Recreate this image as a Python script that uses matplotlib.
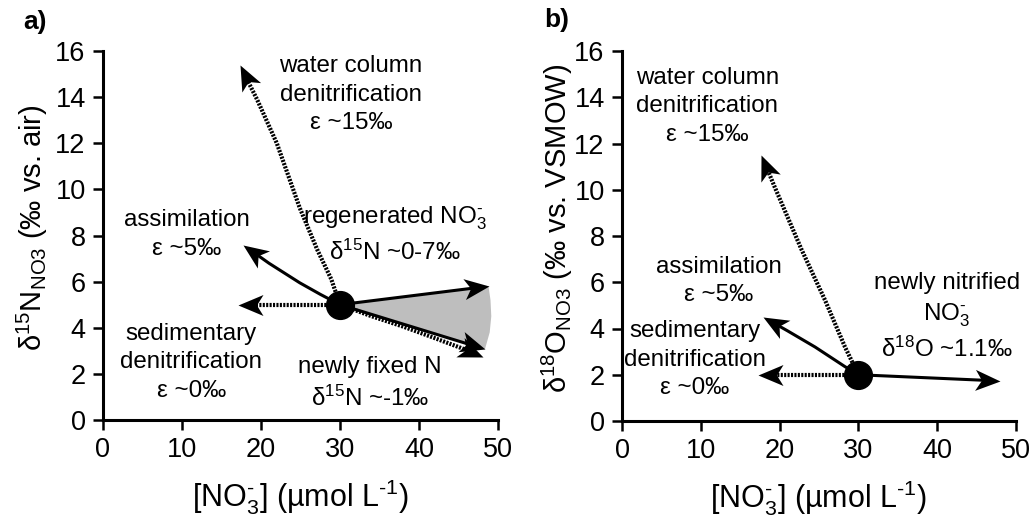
import numpy as np
import matplotlib
matplotlib.use("Agg")
import matplotlib.pyplot as plt
from matplotlib.path import Path
from matplotlib.markers import MarkerStyle

plt.rcParams["font.family"] = ["Liberation Sans", "DejaVu Sans"]
plt.rcParams["mathtext.fontset"] = "custom"
plt.rcParams["mathtext.rm"] = "Liberation Sans"
plt.rcParams["mathtext.it"] = "Liberation Sans:italic"
plt.rcParams["mathtext.bf"] = "Liberation Sans:bold"
plt.rcParams["mathtext.default"] = "regular"

# ---- panel a: d15N of nitrate vs nitrate concentration ----
a_start = (30, 5)
a_wcd_x = [30, 28.9, 27.1, 24.9, 22.0, 19.5, 17.3]
a_wcd_y = [5, 6.1, 7.4, 9.2, 12.0, 13.9, 15.4]
a_assim_x = [30, 27.5, 24.9, 21.0, 17.7]
a_assim_y = [5, 5.45, 5.95, 6.8, 7.6]
a_sed_x = [30, 17.1]
a_sed_y = [5, 5]
a_regen_x = [30, 48.8]
a_regen_y = [5, 5.8]
a_fixed_x = [30, 48.35]
a_fixed_y = [5, 3.07]
a_fixed_dot_x = [30, 34, 38, 42, 45.5, 48.1]
a_fixed_dot_y = [5, 4.5, 4.05, 3.55, 3.1, 2.72]
a_band_x = [30, 48.8, 49.05, 49.15, 48.95, 48.35]
a_band_y = [5, 5.8, 5.2, 4.5, 3.8, 3.07]

# ---- panel b: d18O of nitrate vs nitrate concentration ----
b_start = (30, 2)
b_wcd_x = [30, 28.3, 25.8, 22.8, 19.4, 17.7]
b_wcd_y = [2, 3.2, 5.2, 7.4, 10.1, 11.5]
b_assim_x = [30, 28.3, 24.5, 21.0, 17.9]
b_assim_y = [2, 2.35, 3.2, 3.9, 4.5]
b_sed_x = [30, 17.3]
b_sed_y = [2, 2]
b_nitr_x = [30, 48.0]
b_nitr_y = [2, 1.73]

x_ticks = [0, 10, 20, 30, 40, 50]
y_ticks = [0, 2, 4, 6, 8, 10, 12, 14, 16]

# stealth-style arrowhead: tip at origin, pointing along +x
HEAD_VERTS = [(0, 0), (-1, 0.42), (-0.74, 0), (-1, -0.42), (0, 0)]
HEAD_CODES = [Path.MOVETO, Path.LINETO, Path.LINETO, Path.LINETO, Path.CLOSEPOLY]
HEAD_PATH = Path(HEAD_VERTS, HEAD_CODES)
HEAD_MS = 36          # marker size in points (head length = HEAD_MS/2 pt)
HEAD_LEN_PX = HEAD_MS / 2 * 100 / 72

SOLID = dict(color="black", lw=2.2, solid_capstyle="butt")
DOTTED = dict(color="black", lw=3.0, linestyle=(0, (0.5, 0.32)), dash_capstyle="butt")

HY = "\u2010"  # short hyphen used for the charge / exponent signs


def draw_arrow(ax, xs, ys, style):
    pts = ax.transData.transform(np.column_stack([xs, ys]))
    d = pts[-1] - pts[-2]
    u = d / np.hypot(*d)
    ang = np.degrees(np.arctan2(d[1], d[0]))
    shaft = np.vstack([pts[:-1], pts[-1] - u * HEAD_LEN_PX * 0.6])
    shaft = ax.transData.inverted().transform(shaft)
    ax.plot(shaft[:, 0], shaft[:, 1], zorder=3, **style)
    head = MarkerStyle(HEAD_PATH).rotated(deg=ang)
    ax.plot([xs[-1]], [ys[-1]], marker=head, ms=HEAD_MS, color="black",
            mec="none", zorder=4, clip_on=False)


def style_axes(ax):
    ax.set_xlim(0, 50)
    ax.set_ylim(0, 16)
    ax.set_xticks(x_ticks)
    ax.set_yticks(y_ticks)
    for s in ("top", "right"):
        ax.spines[s].set_visible(False)
    for s in ("left", "bottom"):
        ax.spines[s].set_linewidth(2.2)
    ax.tick_params(direction="out", length=7.5, width=1.8, labelsize=19.5, pad=5)


fig = plt.figure(figsize=(10.35, 5.19), dpi=100)
W, H = 1035, 519
axA = fig.add_axes([103 / W, 1 - 420 / H, (498 - 103) / W, (420 - 51) / H])
axB = fig.add_axes([622 / W, 1 - 421 / H, (1016 - 622) / W, (421 - 51) / H])

TXT = dict(ha="center", va="center", fontsize=17.4, linespacing=1.38, multialignment="center")
XLAB = f"[NO$_3^{{{HY}}}$] (µmol L$^{{{HY}1}}$)"

# panel a
style_axes(axA)
axA.fill(a_band_x, a_band_y, color="#bebebe", lw=0, zorder=1)
draw_arrow(axA, a_wcd_x, a_wcd_y, DOTTED)
draw_arrow(axA, a_assim_x, a_assim_y, SOLID)
draw_arrow(axA, a_sed_x, a_sed_y, DOTTED)
draw_arrow(axA, a_fixed_dot_x, a_fixed_dot_y, DOTTED)
draw_arrow(axA, a_regen_x, a_regen_y, SOLID)
draw_arrow(axA, a_fixed_x, a_fixed_y, SOLID)
axA.plot(*a_start, "o", ms=20, color="black", zorder=5)
axA.text(31.4, 14.1, "water column\ndenitrification\nε ~15‰", **TXT)
axA.text(10.6, 8.05, "assimilation\nε ~5‰", **TXT)
axA.text(37.0, 8.05, f"regenerated NO$_3^{{{HY}}}$\nδ$^{{15}}$N ~0-7‰", **TXT)
axA.text(11.2, 2.5, "sedimentary\ndenitrification\nε ~0‰", **TXT)
axA.text(33.8, 1.6, "newly fixed N\nδ$^{15}$N ~-1‰", **TXT)
axA.set_xlabel(XLAB, fontsize=22)
axA.set_ylabel("δ$^{15}$N$_{NO3}$ (‰ vs. air)", fontsize=21)
axA.xaxis.set_label_coords(0.5, -0.155)
axA.yaxis.set_label_coords(-0.134, 0.52)

# panel b
style_axes(axB)
draw_arrow(axB, b_wcd_x, b_wcd_y, DOTTED)
draw_arrow(axB, b_assim_x, b_assim_y, SOLID)
draw_arrow(axB, b_sed_x, b_sed_y, DOTTED)
draw_arrow(axB, b_nitr_x, b_nitr_y, SOLID)
axB.plot(*b_start, "o", ms=20, color="black", zorder=5)
axB.text(10.85, 13.6, "water column\ndenitrification\nε ~15‰", **TXT)
axB.text(12.3, 6.05, "assimilation\nε ~5‰", **TXT)
axB.text(9.26, 2.65, "sedimentary\ndenitrification\nε ~0‰", **TXT)
axB.text(41.2, 4.5, f"newly nitrified\nNO$_3^{{{HY}}}$\nδ$^{{18}}$O ~1.1‰", **TXT)
axB.set_xlabel(XLAB, fontsize=22)
axB.set_ylabel("δ$^{18}$O$_{NO3}$ (‰ vs. VSMOW)", fontsize=21)
axB.xaxis.set_label_coords(0.5, -0.155)
axB.yaxis.set_label_coords(-0.119, 0.52)

fig.text(35 / W, 1 - 22 / H, "a)", fontsize=19, fontweight="bold", ha="center", va="center")
fig.text(557 / W, 1 - 20 / H, "b)", fontsize=19, fontweight="bold", ha="center", va="center")

fig.savefig("out.png", dpi=100)
